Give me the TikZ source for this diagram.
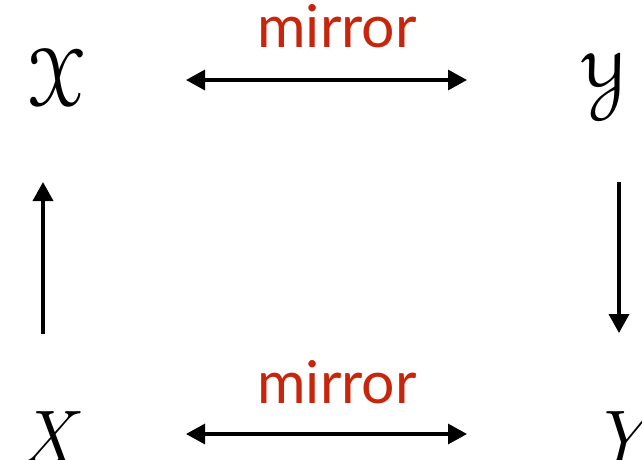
\documentclass[tikz,border=0pt]{standalone}
\usepackage{amsmath}
\usepackage{fontspec}
\usepackage{eucal}
\newfontfamily\labelfont{Lato}
\usetikzlibrary{arrows.meta}
\definecolor{mirrorred}{RGB}{200,38,12}
\tikzset{
  conn/.style={line width=3.6pt,-{Triangle[length=19pt,width=20pt]}},
  biconn/.style={line width=3.2pt,{Triangle[length=19pt,width=20pt]}-{Triangle[length=19pt,width=20pt]}},
  lbl/.style={inner sep=0pt,anchor=base,text=mirrorred,font=\labelfont\fontsize{59}{59}\selectfont},
  calsym/.style={inner sep=0pt,font=\fontsize{82}{82}\selectfont},
  italsym/.style={inner sep=0pt,anchor=base,font=\fontsize{76}{76}\selectfont\itshape}
}
\begin{document}
\begin{tikzpicture}[x=1pt,y=-1pt]
\clip (0,0) rectangle (642,459);
\fill[white] (0,0) rectangle (642,459);
\node[calsym] (cx) at (56,78) {$\mathcal{X}$};
\node[calsym] (cy) at (604,82) {$\mathcal{Y}$};
\node[italsym] (bx) at (47,463) {X};
\node[italsym] (by) at (619,463) {Y};
\node[lbl] (m1) at (337,47) {mirror};
\node[lbl] (m2) at (337,403) {mirror};
\coordinate (t1) at (186,80);
\coordinate (t2) at (467,80);
\coordinate (b1) at (186,434);
\coordinate (b2) at (467,434);
\coordinate (l1) at (43,334);
\coordinate (l2) at (43,182);
\coordinate (r1) at (619,182);
\coordinate (r2) at (619,333);
\draw[biconn] (t1) -- (t2);
\draw[biconn] (b1) -- (b2);
\draw[conn] (l1) -- (l2);
\draw[conn] (r1) -- (r2);
\end{tikzpicture}
\end{document}
